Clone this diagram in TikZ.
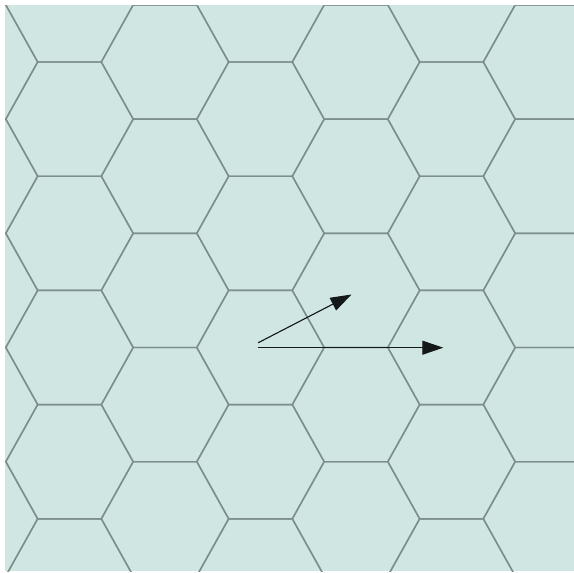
\documentclass[tikz,border=0pt]{standalone}
\usetikzlibrary{arrows.meta}
\definecolor{hexbg}{RGB}{207,230,227}
\definecolor{hexedge}{RGB}{125,143,141}
\definecolor{vecdark}{RGB}{20,24,24}
\tikzset{
  hexline/.style={draw=hexedge, line width=1.4pt},
  latvec/.style={draw=vecdark, fill=vecdark, line width=1.1pt, ->}
}
\begin{document}
\begin{tikzpicture}[x=1pt, y=-1pt, line join=round, line cap=round, >={Triangle[length=21pt,width=14pt]}]
	\useasboundingbox (0,0) rectangle (574,573);
	\fill[hexbg] (5,5) rectangle (574,571);
	\begin{scope}
		\clip (5,5) rectangle (574,571);
		% flat-top hexagons, columns shifted by half a cell
		\foreach \k in {-3,...,4}
			\foreach \j in {-4,...,3} {
				\pgfmathsetmacro{\cx}{260.5+95.5*\k}
				\pgfmathsetmacro{\cy}{347.5+114.2*\j+57.1*mod(abs(\k),2)}
				\draw[hexline] (\cx+63.7,\cy) -- ++(-31.85,-57.1) -- ++(-63.7,0) -- ++(-31.85,57.1) -- ++(31.85,57.1) -- ++(63.7,0) -- cycle;
			}
	\end{scope}
	\coordinate (origin) at (258.3,347.7);
	\coordinate (originB) at (258.3,342.7);
	\coordinate (tipA) at (443.3,347.7);
	\coordinate (tipB) at (351.5,294.5);
	\draw[latvec] (origin) -- (tipA);
	\draw[latvec] (originB) -- (tipB);
\end{tikzpicture}
\end{document}
